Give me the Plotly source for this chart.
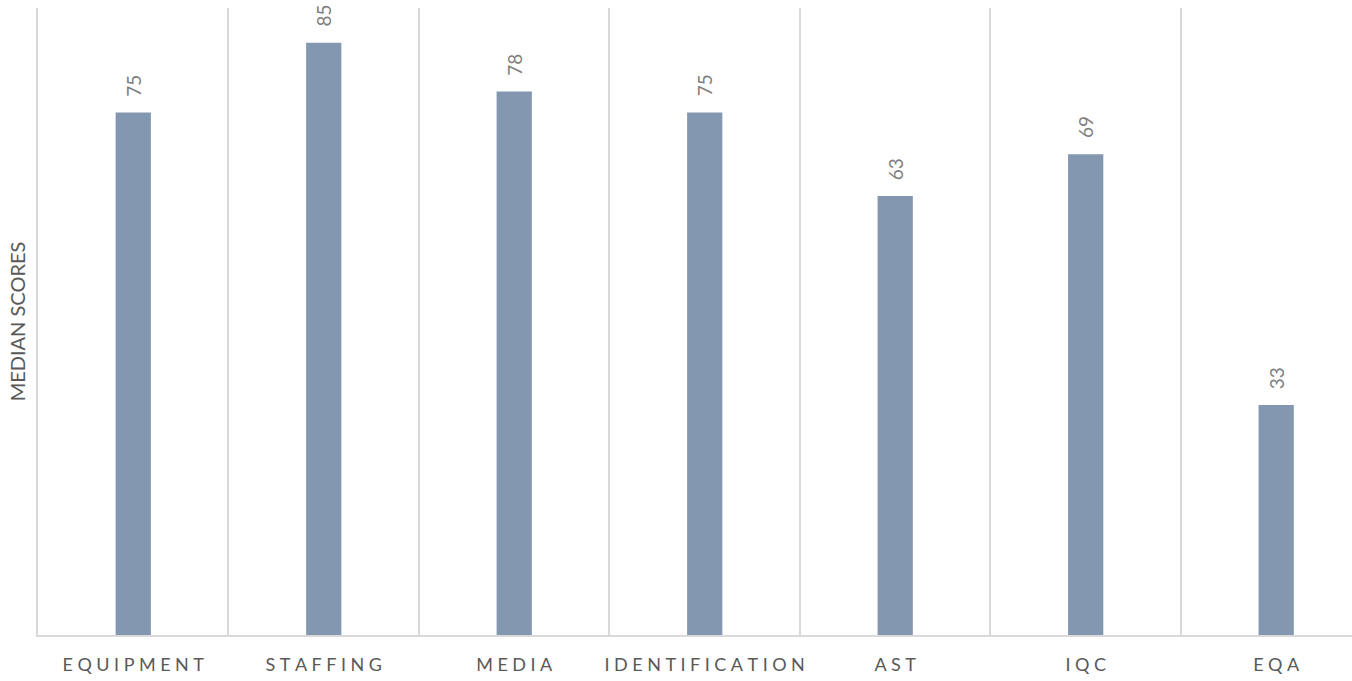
import plotly.graph_objects as go

categories = ["EQUIPMENT", "STAFFING", "MEDIA", "IDENTIFICATION", "AST", "IQC", "EQA"]
scores = [75, 85, 78, 75, 63, 69, 33]
y_title = "MEDIAN SCORES"

spaced = ["\u2009\u2009".join(c) for c in categories]

fig = go.Figure()
fig.add_trace(go.Bar(
    x=spaced, y=scores, width=0.185,
    marker=dict(color="#8497b0", line=dict(width=0)),
    hoverinfo="x+y",
))

for c, v in zip(spaced, scores):
    fig.add_annotation(
        x=c, y=v, text=str(v), textangle=-90, showarrow=False,
        yanchor="bottom", yshift=14,
        font=dict(family="Lato", size=19, color="#7f7f7f"),
    )

fig.update_layout(
    width=1352, height=681,
    margin=dict(l=38, r=0, t=8, b=46),
    paper_bgcolor="white", plot_bgcolor="white",
    showlegend=False,
    xaxis=dict(
        range=[-0.5, 6.398], tickson="boundaries", showgrid=True,
        gridcolor="#d9d9d9", gridwidth=1.5, ticks="", tickangle=0,
        showline=True, linecolor="#d9d9d9", linewidth=1.5,
        tickfont=dict(family="Lato", size=18, color="#595959"),
        ticklabelstandoff=13, zeroline=False, automargin=False,
    ),
    yaxis=dict(
        range=[0, 90], showgrid=False, showticklabels=False, ticks="",
        zeroline=False, showline=True, linecolor="#d9d9d9", linewidth=1.5,
        automargin=False,
        title=dict(text=y_title, standoff=5,
                   font=dict(family="Lato", size=20, color="#595959")),
    ),
)

fig.write_html("out.html")
